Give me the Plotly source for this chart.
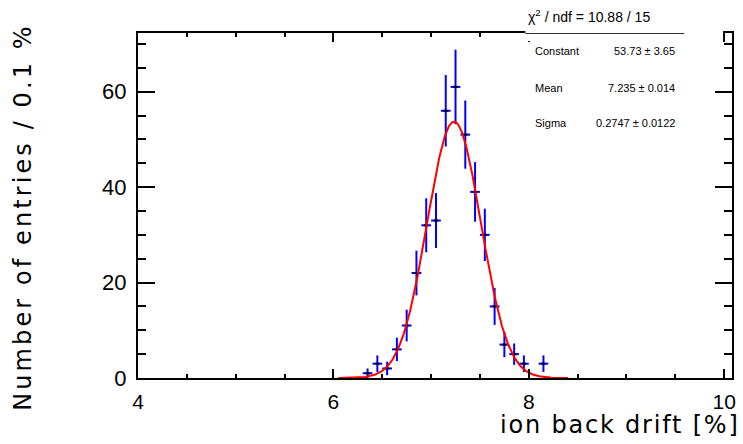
import numpy as np
import plotly.graph_objects as go

# ---- data ----
bin_centers = [6.35, 6.45, 6.55, 6.65, 6.75, 6.85, 6.95, 7.05, 7.15, 7.25,
               7.35, 7.45, 7.55, 7.65, 7.75, 7.85, 7.95, 8.15]
counts = [1, 3, 2, 6, 11, 22, 32, 33, 56, 61, 51, 39, 30, 15, 7, 5, 3, 3]
bin_half_width = 0.05

fit_constant = 53.73
fit_mean = 7.235
fit_sigma = 0.2747
fit_range = [6.05, 8.4]

stat_labels = ["Constant", "Mean", "Sigma"]
stat_values = ["53.73 \u00b1 3.65", "7.235 \u00b1 0.014", "0.2747 \u00b1 0.0122"]
chi2_text = "\u03c7<sup>2</sup> / ndf = 10.88 / 15"

x_title = "ion back drift [%]"
y_title = "Number of entries / 0.1 %"

# ---- layout geometry ----
W, H = 743, 444
ML, MR, MT, MB = 138, 7, 33, 66
PW, PH = W - ML - MR, H - MT - MB


def px(xp):
    return (xp - ML) / PW


def py(yp):
    return 1 - (yp - MT) / PH


errs = np.sqrt(np.array(counts, dtype=float))

fig = go.Figure()

xf = np.linspace(fit_range[0], fit_range[1], 400)
yf = fit_constant * np.exp(-0.5 * ((xf - fit_mean) / fit_sigma) ** 2)

fig.add_trace(go.Scatter(
    x=bin_centers, y=counts, mode="markers",
    marker=dict(symbol="line-ew", size=3, color="black",
                line=dict(color="black", width=2)),
    error_y=dict(type="data", array=errs, color="#0000ff", thickness=2, width=0),
    error_x=dict(type="constant", value=bin_half_width, color="#0000ff",
                 thickness=2, width=0),
    showlegend=False, hoverinfo="skip",
))

fig.add_trace(go.Scatter(
    x=xf, y=yf, mode="lines", line=dict(color="#ff0000", width=2),
    showlegend=False, hoverinfo="skip",
))

fig.update_layout(
    width=W, height=H,
    margin=dict(l=ML, r=MR, t=MT, b=MB),
    paper_bgcolor="white", plot_bgcolor="white",
    xaxis=dict(
        range=[4, 10.08], showgrid=False, zeroline=False,
        showline=True, linecolor="black", linewidth=2, mirror="ticks",
        ticks="inside", ticklen=9, tickwidth=2, tickcolor="black",
        tickmode="array", tickvals=[4, 6, 8, 10], ticktext=["4", "6", "8", "10"],
        minor=dict(dtick=0.5, tick0=4, ticks="inside", ticklen=4, tickwidth=2,
                   tickcolor="black", showgrid=False),
        tickfont=dict(family="Liberation Sans, Arial, sans-serif", size=21, color="black"),
        ticklabelstandoff=4,
    ),
    yaxis=dict(
        range=[0, PH / 4.772], showgrid=False, zeroline=False,
        showline=True, linecolor="black", linewidth=2, mirror="ticks",
        ticks="inside", ticklen=17, tickwidth=2, tickcolor="black",
        tickmode="array", tickvals=[0, 20, 40, 60], ticktext=["0", "20", "40", "60"],
        minor=dict(dtick=5, tick0=0, ticks="inside", ticklen=8, tickwidth=2,
                   tickcolor="black", showgrid=False),
        tickfont=dict(family="Liberation Sans, Arial, sans-serif", size=22, color="black"),
        ticklabelstandoff=5,
    ),
)

# stats box (white pave covering the top frame) and separator line
fig.add_shape(type="rect", xref="paper", yref="paper",
              x0=px(528), x1=px(727), y0=py(41), y1=py(0),
              fillcolor="white", line=dict(width=0), layer="above")
fig.add_shape(type="line", xref="paper", yref="paper",
              x0=px(528), x1=px(688), y0=py(33.5), y1=py(33.5),
              line=dict(color="#333333", width=1), layer="above")

stat_font = dict(family="Liberation Sans, Arial, sans-serif", size=11, color="black")
stat_rows_y = [51, 88, 123]
for lab, val, yy in zip(stat_labels, stat_values, stat_rows_y):
    fig.add_annotation(xref="paper", yref="paper", x=px(536), y=py(yy),
                       text=lab, showarrow=False, xanchor="left", yanchor="middle",
                       font=stat_font)
    fig.add_annotation(xref="paper", yref="paper", x=px(681), y=py(yy),
                       text=val, showarrow=False, xanchor="right", yanchor="middle",
                       font=stat_font)

fig.add_annotation(xref="paper", yref="paper", x=px(529), y=py(16),
                   text=chi2_text, showarrow=False, xanchor="left", yanchor="middle",
                   font=dict(family="Liberation Sans, Arial, sans-serif", size=14, color="black"))

fig.add_annotation(xref="paper", yref="paper", x=px(500), y=py(425),
                   text='<span style="letter-spacing:1.8px">' + x_title + '</span>',
                   showarrow=False, xanchor="left", yanchor="middle",
                   font=dict(family="DejaVu Sans, sans-serif", size=24, color="black"))
fig.add_annotation(xref="paper", yref="paper", x=px(22), y=py(217),
                   text='<span style="letter-spacing:3.1px">' + y_title + '</span>',
                   showarrow=False, xanchor="center", yanchor="middle",
                   textangle=-90,
                   font=dict(family="DejaVu Sans, sans-serif", size=24, color="black"))

fig.write_html("out.html")
